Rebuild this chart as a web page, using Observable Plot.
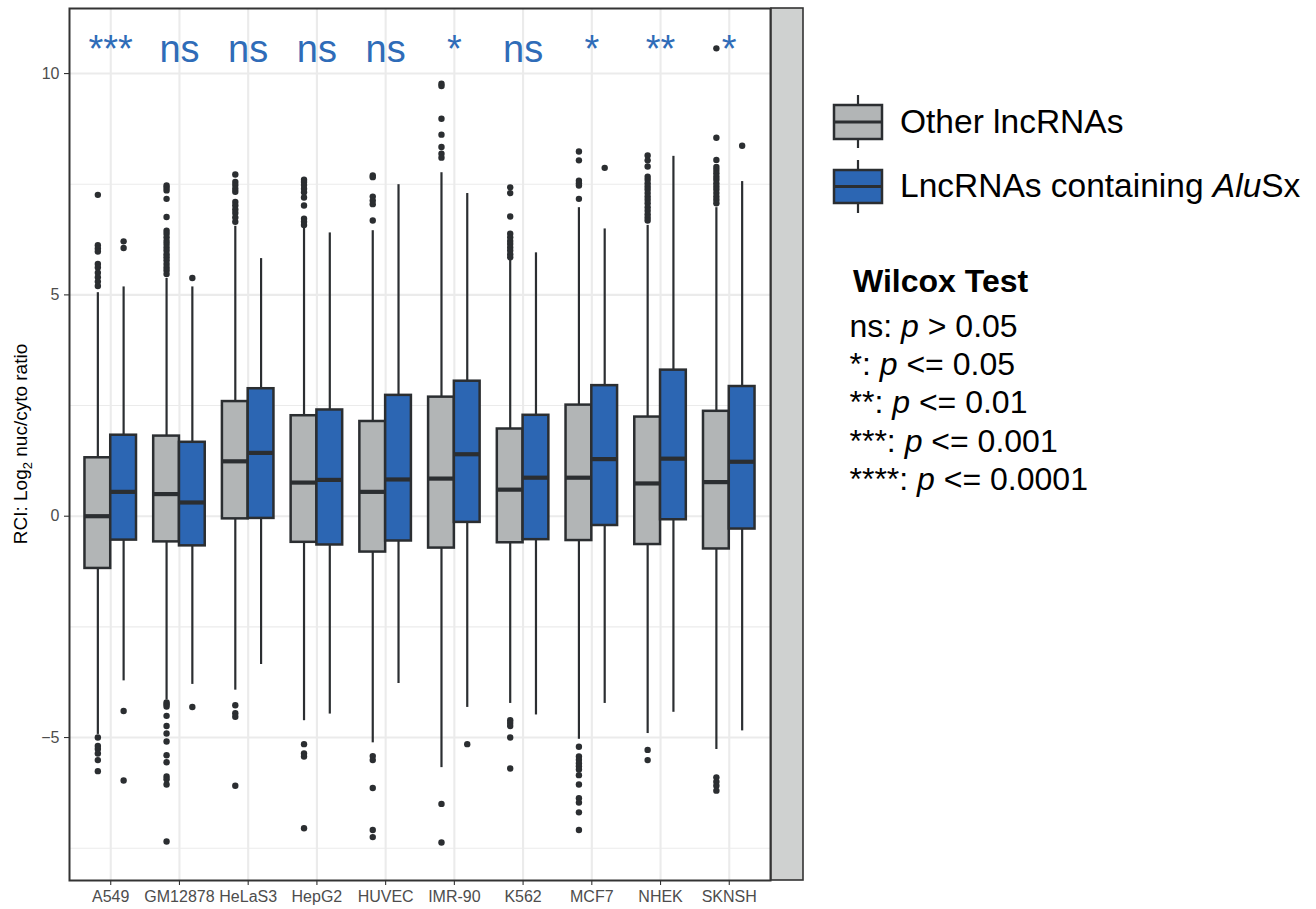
<!DOCTYPE html>
<html>
<head>
<meta charset="utf-8">
<script src="https://cdn.jsdelivr.net/npm/d3@7"></script>
<script src="https://cdn.jsdelivr.net/npm/@observablehq/plot@0.6"></script>
<style>
  body { margin: 0; background: #fff; font-family: "Liberation Sans", Arial, sans-serif; }
  #wrap { position: relative; width: 1316px; height: 909px; overflow: hidden; }
  #chart { position: absolute; left: 0; top: 0; }
  #legend { position: absolute; left: 0; top: 0; }
</style>
</head>
<body>
<div id="wrap">
  <div id="chart"></div>
  <svg id="legend" width="1316" height="909" font-family="Liberation Sans, Arial, sans-serif"></svg>
</div>
<script>
// ---------------- data ----------------
const cells = ["A549", "GM12878", "HeLaS3", "HepG2", "HUVEC", "IMR-90", "K562", "MCF7", "NHEK", "SKNSH"];
const groups = ["Other lncRNAs", "LncRNAs containing AluSx"];
const sigLabels = ["***", "ns", "ns", "ns", "ns", "*", "ns", "*", "**", "*"];

// Other lncRNAs
const otherLo  = [-4.93, -4.15, -3.93, -4.62, -5.12, -5.68, -4.23, -5.04, -4.91, -5.27];
const otherQ1  = [-1.18, -0.58, -0.06, -0.59, -0.81, -0.72, -0.60, -0.55, -0.64, -0.74];
const otherMed = [ 0.00,  0.50,  1.24,  0.76,  0.55,  0.85,  0.60,  0.87,  0.74,  0.77];
const otherQ3  = [ 1.32,  1.81,  2.59,  2.27,  2.14,  2.69,  1.97,  2.51,  2.24,  2.37];
const otherHi  = [ 5.05,  5.37,  6.55,  6.50,  6.45,  7.76,  5.78,  6.97,  6.57,  6.97];
const otherOut = [
  [7.26, 6.12, 6.05, 5.98, 5.70, 5.62, 5.50, 5.40, 5.30, 5.20, -5.00, -5.19, -5.26, -5.36, -5.51, -5.76],
  [7.47, 7.42, 7.36, 7.17, 6.76, 6.45, 6.38, 6.30, 6.22, 6.15, 6.07, 6.00, 5.92, 5.85, 5.78, 5.70, 5.62, 5.55, 5.47,
   -4.21, -4.25, -4.30, -4.51, -4.74, -4.91, -5.09, -5.40, -5.56, -5.88, -5.94, -6.06, -7.35],
  [7.72, 7.55, 7.48, 7.40, 7.33, 7.10, 7.02, 6.93, 6.85, 6.75, 6.65, -4.27, -4.45, -4.53, -6.09],
  [7.60, 7.55, 7.48, 7.40, 7.32, 7.20, 7.02, 6.72, 6.65, 6.58, -5.15, -5.36, -5.43, -7.05],
  [7.70, 7.66, 7.22, 7.13, 7.05, 6.68, -5.42, -5.51, -6.14, -7.09, -7.25],
  [9.77, 9.72, 8.98, 8.62, 8.34, 8.19, 8.10, -6.50, -7.37],
  [7.43, 7.30, 6.77, 6.38, 6.30, 6.22, 6.15, 6.07, 6.00, 5.92, 5.85, -4.61, -4.67, -4.74, -5.00, -5.70],
  [8.24, 8.04, 7.58, 7.52, 7.47, 7.17, -5.21, -5.43, -5.50, -5.58, -5.65, -5.72, -5.85, -6.06, -6.37, -6.47, -6.69, -7.09],
  [8.15, 8.04, 7.90, 7.67, 7.60, 7.52, 7.45, 7.38, 7.30, 7.22, 7.15, 7.07, 6.98, 6.90, 6.82, 6.75, 6.68, -5.28, -5.51],
  [10.57, 8.55, 8.05, 7.89, 7.82, 7.75, 7.67, 7.60, 7.52, 7.45, 7.38, 7.30, 7.22, 7.15, 7.07, -5.90, -6.00, -6.09, -6.20]
];

// LncRNAs containing AluSx
const aluLo  = [-3.72, -3.80, -3.35, -4.47, -3.78, -4.32, -4.49, -4.23, -4.43, -4.85];
const aluQ1  = [-0.54, -0.67, -0.05, -0.65, -0.56, -0.14, -0.53, -0.21, -0.08, -0.29];
const aluMed = [ 0.55,  0.31,  1.43,  0.82,  0.83,  1.40,  0.87,  1.29,  1.30,  1.23];
const aluQ3  = [ 1.83,  1.67,  2.88,  2.40,  2.73,  3.05,  2.28,  2.95,  3.30,  2.93];
const aluHi  = [ 5.18,  5.18,  5.82,  6.40,  7.49,  7.29,  5.95,  6.49,  8.13,  7.56];
const aluOut = [
  [6.21, 6.06, -4.40, -5.97],
  [5.38, -4.31],
  [],
  [],
  [],
  [-5.15],
  [],
  [7.87],
  [],
  [8.37]
];

const yMajor = [-5, 0, 5, 10];
const yMinor = [-7.5, -2.5, 2.5, 7.5];

(function () {
  // ---------------- build tables ----------------
  const half = 0.1875;
  const rows = [];
  const outs = [];
  cells.forEach((c, i) => {
    const stats = [
      [otherLo, otherQ1, otherMed, otherQ3, otherHi, otherOut],
      [aluLo, aluQ1, aluMed, aluQ3, aluHi, aluOut]
    ];
    stats.forEach(([lo, q1, md, q3, hi, out], g) => {
      const pos = i + 1 + (g === 0 ? -half : half);
      rows.push({cell: c, group: groups[g], pos, lo: lo[i], q1: q1[i], med: md[i], q3: q3[i], hi: hi[i]});
      out[i].forEach(v => outs.push({cell: c, group: groups[g], pos, v}));
    });
  });
  const sig = sigLabels.map((s, i) => ({cell: cells[i], idx: i + 1, label: s}));

  const dark = "#2b2e31";
  const fills = ["#b2b5b6", "#2c66b3"];
  const labelY = 10.26;
  const yDom = [-8.23, 11.47];

  const chart = Plot.plot({
    width: 810,
    height: 909,
    marginLeft: 69,
    marginRight: 40,
    marginTop: 8,
    marginBottom: 29,
    style: {fontFamily: "Liberation Sans, Arial, sans-serif", background: "#fff", overflow: "visible"},
    x: {domain: [0.4, 10.6]},
    y: {domain: yDom},
    color: {domain: groups, range: fills},
    marks: [
      Plot.ruleY(yMinor, {stroke: "#ebebeb", strokeWidth: 1.1}),
      Plot.ruleY(yMajor, {stroke: "#ebebeb", strokeWidth: 2.1}),
      Plot.ruleX(cells.map((c, i) => i + 1), {stroke: "#ebebeb", strokeWidth: 2.1}),
      Plot.ruleX(rows, {x: "pos", y1: "lo", y2: "q1", stroke: dark, strokeWidth: 2.2}),
      Plot.ruleX(rows, {x: "pos", y1: "q3", y2: "hi", stroke: dark, strokeWidth: 2.2}),
      Plot.rect(rows, {x1: d => d.pos - half, x2: d => d.pos + half, y1: "q1", y2: "q3", fill: "group", stroke: dark, strokeWidth: 2.5}),
      Plot.ruleY(rows, {y: "med", x1: d => d.pos - half, x2: d => d.pos + half, stroke: dark, strokeWidth: 4.2}),
      Plot.dot(outs, {x: "pos", y: "v", r: 3.2, fill: dark, stroke: null}),
      Plot.text(sig, {x: "idx", y: () => labelY, text: "label", fill: "#2f6cb8", fontSize: 38, lineAnchor: "bottom"}),
      Plot.axisX(cells.map((c, i) => i + 1), {
        tickFormat: i => cells[i - 1], tickSize: 5, tickPadding: 5, stroke: "#333", strokeWidth: 1.1,
        fill: "#4d4d4d", fontSize: 16, label: null
      }),
      Plot.axisY(yMajor, {
        tickFormat: d => (d < 0 ? "\u2212" + (-d) : String(d)), tickSize: 5, tickPadding: 5, stroke: "#333", strokeWidth: 1.1,
        fill: "#4d4d4d", fontSize: 16, label: null
      }),
      Plot.frame({stroke: "#333", strokeWidth: 2})
    ]
  });
  document.getElementById("chart").appendChild(chart);

  // right-hand strip and y-axis title
  const svg = d3.select(chart);
  const xs = chart.scale("x"), ys = chart.scale("y");
  const px = xs.apply(10.6), pTop = ys.apply(yDom[1]), pBot = ys.apply(yDom[0]);
  svg.append("rect").attr("x", px + 1).attr("y", pTop).attr("width", 32).attr("height", pBot - pTop)
    .attr("fill", "#cfd1d0").attr("stroke", "#333").attr("stroke-width", 1.6);
  const yt = svg.append("text").attr("transform", `translate(27,${(pTop + pBot) / 2}) rotate(-90)`)
    .attr("text-anchor", "middle").attr("font-size", 19).attr("fill", "#000");
  yt.append("tspan").text("RCI: Log");
  yt.append("tspan").attr("font-size", 13).attr("dy", 5).text("2");
  yt.append("tspan").attr("dy", -5).text(" nuc/cyto ratio");

  // ---------------- legend ----------------
  const lg = d3.select("#legend");
  const keyDefs = [
    {fill: fills[0], y0: 105, y1: 139, w0: 95, w1: 148},
    {fill: fills[1], y0: 170, y1: 203, w0: 160, w1: 213}
  ];
  keyDefs.forEach(k => {
    lg.append("line").attr("x1", 858).attr("x2", 858).attr("y1", k.w0).attr("y2", k.w1).attr("stroke", dark).attr("stroke-width", 2.2);
    lg.append("rect").attr("x", 834).attr("y", k.y0).attr("width", 48).attr("height", k.y1 - k.y0)
      .attr("fill", k.fill).attr("stroke", dark).attr("stroke-width", 2.5);
    lg.append("line").attr("x1", 834).attr("x2", 882).attr("y1", (k.y0 + k.y1) / 2).attr("y2", (k.y0 + k.y1) / 2)
      .attr("stroke", dark).attr("stroke-width", 3);
  });
  lg.append("text").attr("x", 900).attr("y", 133).attr("font-size", 33.5).text("Other lncRNAs");
  const t2 = lg.append("text").attr("x", 900).attr("y", 197).attr("font-size", 33.5);
  t2.append("tspan").text("LncRNAs containing ");
  t2.append("tspan").attr("font-style", "italic").text("Alu");
  t2.append("tspan").text("Sx");

  lg.append("text").attr("x", 853).attr("y", 292).attr("font-size", 32).attr("font-weight", "bold").text("Wilcox Test");
  const testLines = [["ns: ", "> 0.05"], ["*: ", "<= 0.05"], ["**: ", "<= 0.01"], ["***: ", "<= 0.001"], ["****: ", "<= 0.0001"]];
  const testY = [337, 375, 413, 451.5, 489.5];
  testLines.forEach(([a, b], i) => {
    const t = lg.append("text").attr("x", 849.5).attr("y", testY[i]).attr("font-size", 32);
    t.append("tspan").text(a);
    t.append("tspan").attr("font-style", "italic").text("p");
    t.append("tspan").text(" " + b);
  });
})();
</script>
</body>
</html>
